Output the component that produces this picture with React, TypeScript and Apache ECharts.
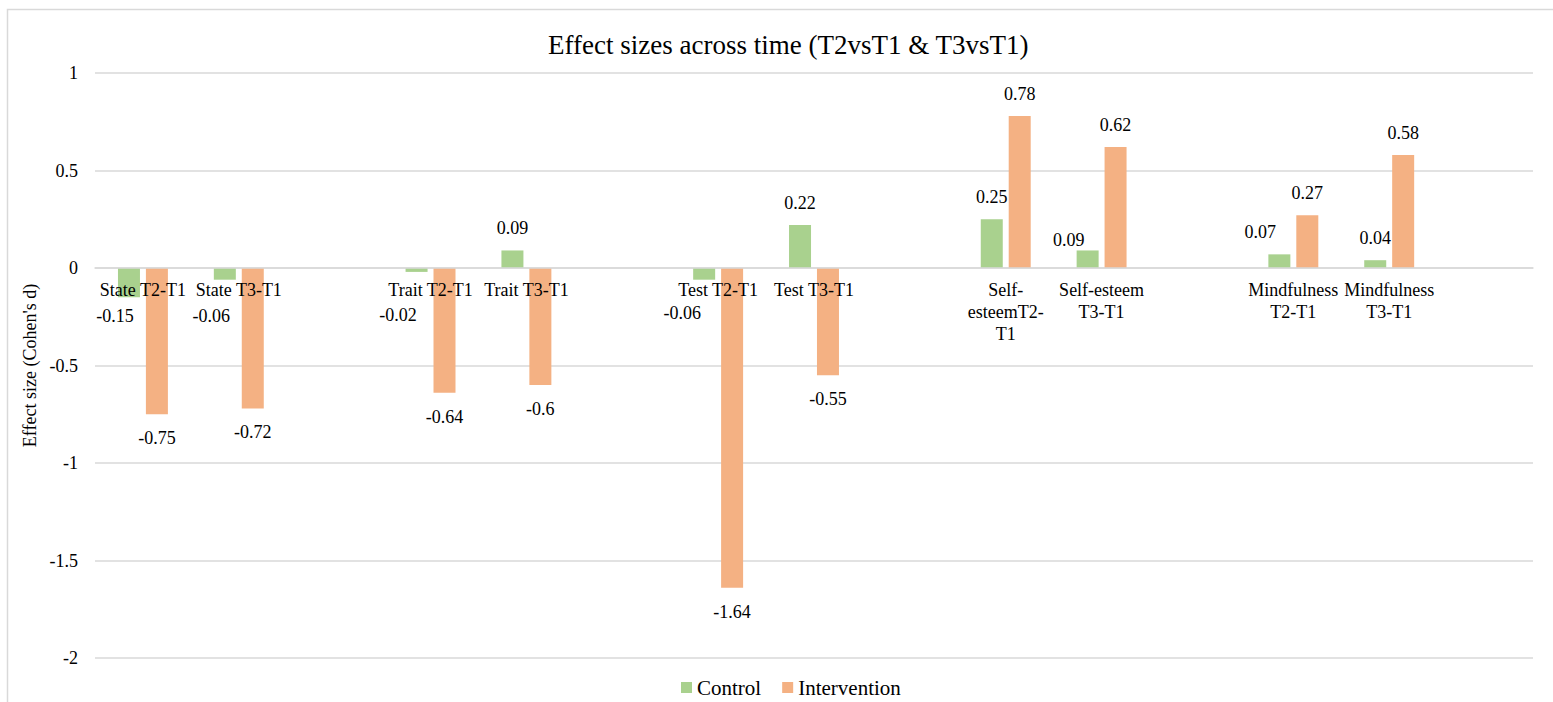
import React, { useEffect, useRef } from "react";
import * as echarts from "echarts";

const titleText = "Effect sizes across time (T2vsT1 & T3vsT1)";
const yAxisName = "Effect size (Cohen's d)";
const categories = [
  "State T2-T1",
  "State T3-T1",
  " ",
  "Trait T2-T1",
  "Trait T3-T1",
  "  ",
  "Test T2-T1",
  "Test T3-T1",
  "   ",
  "Self-\nesteemT2-\nT1",
  "Self-esteem\nT3-T1",
  "    ",
  "Mindfulness\nT2-T1",
  "Mindfulness\nT3-T1",
  "     ",
];
const controlValues = [-0.15, -0.06, null, -0.02, 0.09, null, -0.06, 0.22, null, 0.25, 0.09, null, 0.07, 0.04, null];
const interventionValues = [-0.75, -0.72, null, -0.64, -0.6, null, -1.64, -0.55, null, 0.78, 0.62, null, 0.27, 0.58, null];
const yTicks = { min: -2, max: 1, interval: 0.5 };

// manual label nudges (as in the source chart), index -> [dx, dy]
const controlLabelNudge: Record<number, [number, number]> = {
  0: [-14, -5],
  1: [-13.5, 12],
  3: [-18.5, 19],
  6: [-22, 9],
  10: [-19, 11.5],
  12: [-19, 0],
};

const FONT = "'Liberation Serif', 'Times New Roman', serif";
const GRID = { left: 95, right: 20, top: 73, bottom: 44 };
const CHART_H = 702;

function buildData(values: (number | null)[], nudge: Record<number, [number, number]>) {
  return values.map((v, i) => {
    if (v === null) return "-";
    const neg = v < 0;
    return {
      value: v,
      label: {
        position: neg ? "bottom" : "top",
        distance: neg ? 15 : 13,
        offset: nudge[i] || [0, 0],
      },
    };
  });
}

export default function App() {
  const ref = useRef<HTMLDivElement>(null);
  useEffect(() => {
    document.body.style.margin = "0";
    if (!ref.current) return;
    const chart = echarts.init(ref.current, undefined, { renderer: "svg" });
    const labelStyle = {
      show: true,
      fontFamily: FONT,
      fontSize: 18,
      lineHeight: 18,
      color: "#000",
    };
    // place the category axis (line + labels) at value 0
    const plotH = CHART_H - GRID.top - GRID.bottom;
    const zeroFromBottom = (plotH * (0 - yTicks.min)) / (yTicks.max - yTicks.min);
    chart.setOption({
      animation: false,
      backgroundColor: "#fff",
      title: {
        text: titleText,
        left: 548,
        top: 31,
        padding: 0,
        textStyle: { fontFamily: FONT, fontSize: 27, fontWeight: "normal", color: "#000" },
      },
      graphic: [
        {
          type: "rect",
          shape: { x: 7.5, y: 9.5, width: 1700, height: 800 },
          style: { fill: "none", stroke: "#d9d9d9", lineWidth: 1.5 },
          silent: true,
        },
      ],
      legend: {
        left: 681,
        top: 677,
        padding: 0,
        itemWidth: 11,
        itemHeight: 11,
        itemGap: 21,
        icon: "rect",
        textStyle: { fontFamily: FONT, fontSize: 21, color: "#000" },
        data: ["Control", "Intervention"],
      },
      grid: { ...GRID, containLabel: false, outerBoundsMode: "none" },
      xAxis: {
        type: "category",
        data: categories,
        z: 10,
        offset: -zeroFromBottom,
        axisLine: { onZero: false, lineStyle: { color: "#d9d9d9", width: 1.5 } },
        axisTick: { show: false },
        axisLabel: {
          interval: 0,
          margin: 11,
          fontFamily: FONT,
          fontSize: 18,
          lineHeight: 22,
          color: "#000",
        },
        splitLine: { show: false },
      },
      yAxis: {
        type: "value",
        min: yTicks.min,
        max: yTicks.max,
        interval: yTicks.interval,
        name: yAxisName,
        nameLocation: "middle",
        nameGap: 55,
        nameRotate: 90,
        nameTextStyle: { fontFamily: FONT, fontSize: 18, color: "#000" },
        axisLine: { show: false },
        axisTick: { show: false },
        axisLabel: { margin: 17, fontFamily: FONT, fontSize: 18, color: "#000" },
        splitLine: { lineStyle: { color: "#d9d9d9", width: 1.5 } },
      },
      series: [
        {
          name: "Control",
          type: "bar",
          barWidth: 22,
          barGap: "27%",
          itemStyle: { color: "#a9d18e" },
          label: labelStyle,
          data: buildData(controlValues, controlLabelNudge),
        },
        {
          name: "Intervention",
          type: "bar",
          barWidth: 22,
          barGap: "27%",
          itemStyle: { color: "#f4b183" },
          label: labelStyle,
          data: buildData(interventionValues, {}),
        },
      ],
    });
    return () => chart.dispose();
  }, []);
  return <div ref={ref} style={{ width: 1553, height: CHART_H }} />;
}
